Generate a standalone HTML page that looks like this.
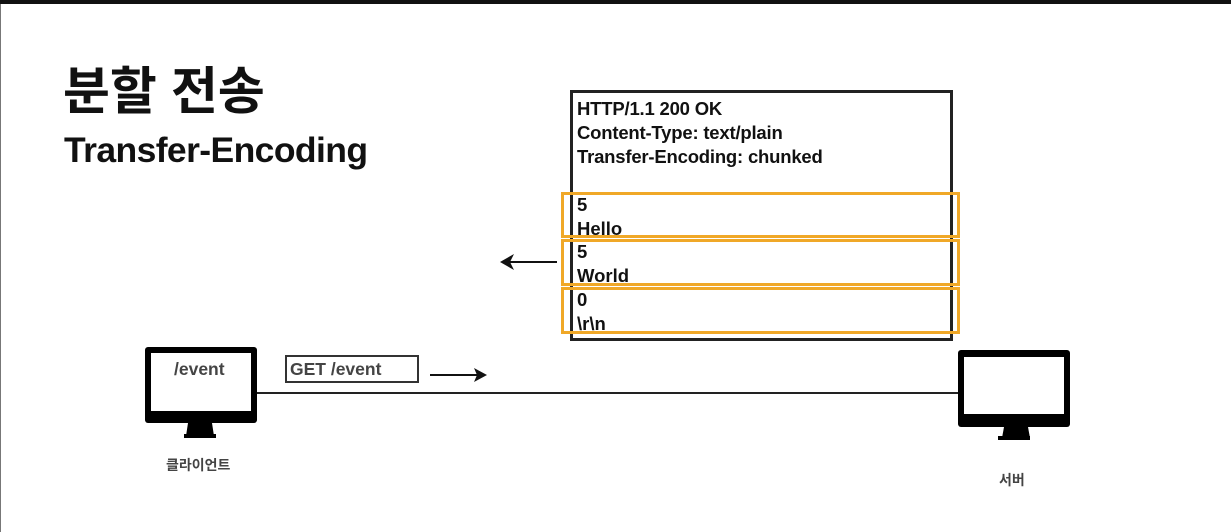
<!DOCTYPE html>
<html><head><meta charset="utf-8"><style>
html,body{margin:0;padding:0;width:1231px;height:532px;overflow:hidden;background:#fff;position:relative;font-family:"Liberation Sans","Noto Sans CJK KR",sans-serif}
.a{position:absolute}
.t{font-weight:bold;color:#111;white-space:nowrap}
.ob{position:absolute;border:3px solid #f0a828;box-sizing:border-box}
</style></head><body>
<div class="a" style="left:0;top:0;width:1231px;height:4px;background:#111"></div>
<div class="a" style="left:0;top:4px;width:1px;height:528px;background:#777"></div>
<div class="a t" style="left:63px;top:61px;font-size:51px;line-height:62px">분할 전송</div>
<div class="a t" style="left:64px;top:130px;font-size:35.5px;line-height:40px;letter-spacing:-0.6px">Transfer-Encoding</div>

<div class="a" style="left:570px;top:90px;width:383px;height:251px;border:3px solid #222;box-sizing:border-box"></div>
<div class="a t" style="left:577px;top:97px;font-size:18.5px;line-height:24px;letter-spacing:-0.2px">HTTP/1.1 200 OK<br>Content-Type: text/plain<br>Transfer-Encoding: chunked</div>
<div class="ob" style="left:561px;top:192px;width:399px;height:46px"></div>
<div class="ob" style="left:561px;top:239px;width:399px;height:47px"></div>
<div class="ob" style="left:561px;top:287px;width:399px;height:47px"></div>
<div class="a t" style="left:577px;top:193px;font-size:18.5px;line-height:24px">5<br>Hello</div>
<div class="a t" style="left:577px;top:240px;font-size:18.5px;line-height:24px">5<br>World</div>
<div class="a t" style="left:577px;top:288px;font-size:18.5px;line-height:24px">0<br>\r\n</div>

<svg class="a" style="left:0;top:0" width="1231" height="532">
<line x1="557" y1="262" x2="504" y2="262" stroke="#111" stroke-width="2"/>
<path d="M500 262 L514 254 L510 262 L514 270 Z" fill="#111"/>
<line x1="430" y1="375" x2="482" y2="375" stroke="#111" stroke-width="2"/>
<path d="M487 375 L474 368 L477 375 L474 382 Z" fill="#111"/>
<line x1="257" y1="393" x2="960" y2="393" stroke="#222" stroke-width="2"/>
<rect x="145" y="347" width="112" height="76" rx="3" fill="#000"/>
<rect x="151" y="353" width="100" height="58" fill="#fff"/>
<path d="M188 423 L212 423 L214 436 L186 436 Z" fill="#000"/>
<rect x="184" y="434" width="32" height="4" fill="#000"/>
<rect x="958" y="350" width="112" height="77" rx="3" fill="#000"/>
<rect x="964" y="357" width="100" height="57" fill="#fff"/>
<path d="M1004 427 L1028 427 L1030 438 L1002 438 Z" fill="#000"/>
<rect x="998" y="436" width="32" height="4" fill="#000"/>
</svg>
<div class="a" style="left:285px;top:355px;width:134px;height:28px;border:2px solid #333;box-sizing:border-box"></div>
<div class="a t" style="left:290px;top:358px;font-size:17.5px;line-height:22px;color:#444">GET /event</div>
<div class="a t" style="left:174px;top:358px;font-size:17.5px;line-height:22px;color:#444">/event</div>
<div class="a t" style="left:166px;top:456px;font-size:14px;line-height:18px;color:#444">클라이언트</div>
<div class="a t" style="left:999px;top:471px;font-size:14px;line-height:18px;color:#444">서버</div>
</body></html>
